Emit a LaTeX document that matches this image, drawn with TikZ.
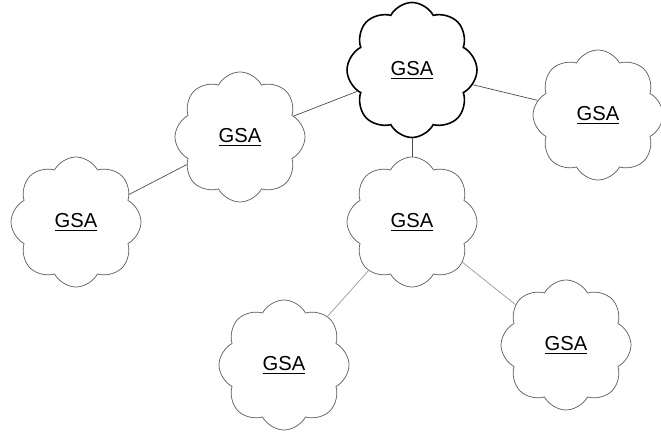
\documentclass[tikz,border=0pt]{standalone}
\usepackage{fontspec}
\newfontfamily\gsafont{Liberation Sans}
\usetikzlibrary{shapes.symbols}
\newcommand\gsaul[1]{\vtop{\hbox{#1}\kern1.4pt\hrule height .8pt}}

\begin{document}
\begin{tikzpicture}[
   every node/.style={cloud, cloud puffs=8, cloud puff arc=125, aspect=1,
                      draw=black!65, thin,
                      minimum width=2.6cm, minimum height=2.6cm,
                      font=\gsafont\fontsize{11.5}{13}\selectfont},
   hub/.style={draw=black, line width=0.9pt, minimum height=2.7cm},
   link/.style={black!70, thin},
   weak link/.style={black!40, thin}]

\useasboundingbox (0,0) rectangle (13.22,8.7);

\node[hub] (top)    at (8.24,7.30)  {\gsaul{GSA}};
\node      (left)   at (4.80,5.96)  {\gsaul{GSA}};
\node      (far)    at (1.52,4.26)  {\gsaul{GSA}};
\node      (right)  at (11.96,6.40) {\gsaul{GSA}};
\node      (mid)    at (8.24,4.26)  {\gsaul{GSA}};
\node      (low1)   at (5.68,1.40)  {\gsaul{GSA}};
\node      (low2)   at (11.32,1.80) {\gsaul{GSA}};

\draw[link] (top) -- (left);
\draw[link] (left) -- (far);
\draw[link] (top) -- (right);
\draw[link] (top) -- (mid);
\draw[weak link] (mid) -- (low1);
\draw[weak link] (mid) -- (low2);

\end{tikzpicture}
\end{document}
